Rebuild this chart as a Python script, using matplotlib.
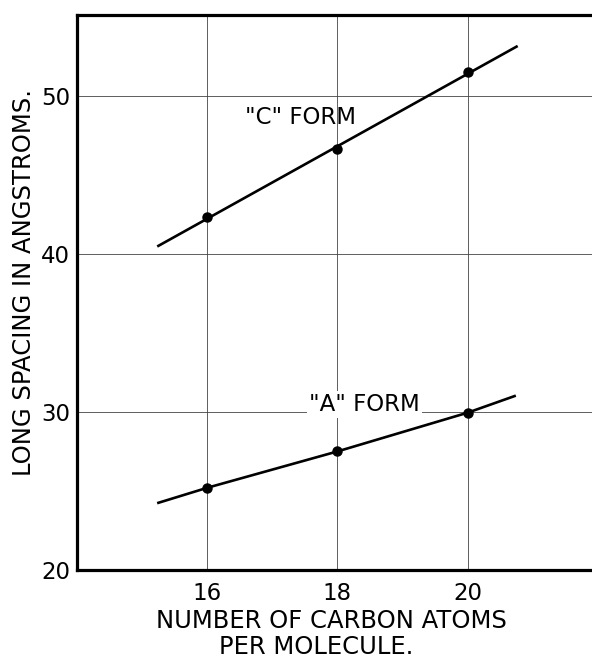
import matplotlib
matplotlib.use("Agg")
import matplotlib.pyplot as plt

# measured points (long spacing, angstroms)
carbons = [16, 18, 20]
c_form = [42.3, 46.6, 51.5]
a_form = [25.2, 27.5, 29.9]

# drawn curves through the points
c_line_x = [15.25, 20.75]
c_line_y = [40.5, 53.1]
a_line_x = [15.25, 16, 18, 20, 20.72]
a_line_y = [24.25, 25.2, 27.5, 29.95, 31.0]

xticks = [16, 18, 20]
yticks = [20, 30, 40, 50]

plt.rcParams['font.family'] = ['DejaVu Sans']

fig = plt.figure(figsize=(5.92, 6.62), dpi=100)
ax = fig.add_axes([77/592, 1 - 570/662, 1 - 77/592 + 0.01, 555/662])

ax.set_xlim(14, 22.0)
ax.set_ylim(20, 55.1)

# grid
for x in xticks:
    ax.axvline(x, color='#444444', lw=0.6, zorder=1)
for y in yticks[1:]:
    ax.axhline(y, color='#444444', lw=0.6, zorder=1)

ax.plot(c_line_x, c_line_y, color='black', lw=1.9, zorder=3)
ax.plot(a_line_x, a_line_y, color='black', lw=1.9, zorder=3)
ax.plot(carbons, c_form, 'o', color='black', ms=6.5, zorder=4)
ax.plot(carbons, a_form, 'o', color='black', ms=6.5, zorder=4)

ax.text(16.58, 48.6, '"C" FORM', fontsize=16.5, va='center', ha='left', zorder=5)
ax.text(17.57, 30.45, '"A" FORM', fontsize=16.5, va='center', ha='left', zorder=5,
        bbox=dict(facecolor='white', edgecolor='none', pad=1.5))

ax.set_xticks(xticks)
ax.set_yticks(yticks)
ax.tick_params(length=0, labelsize=16.5, pad=5)
ax.tick_params(axis='x', pad=9)

for side in ['left', 'bottom', 'top']:
    ax.spines[side].set_linewidth(2.3)
ax.spines['right'].set_visible(False)

fig.text(24/592, 1 - 283/662, 'LONG SPACING IN ANGSTROMS.', fontsize=17.5,
         rotation=90, ha='center', va='center')
fig.text(331/592, 1 - 621/662, 'NUMBER OF CARBON ATOMS', fontsize=17.5,
         ha='center', va='center')
fig.text(316/592, 1 - 647/662, 'PER MOLECULE.', fontsize=17.5,
         ha='center', va='center')

fig.savefig('out.png', dpi=100)
